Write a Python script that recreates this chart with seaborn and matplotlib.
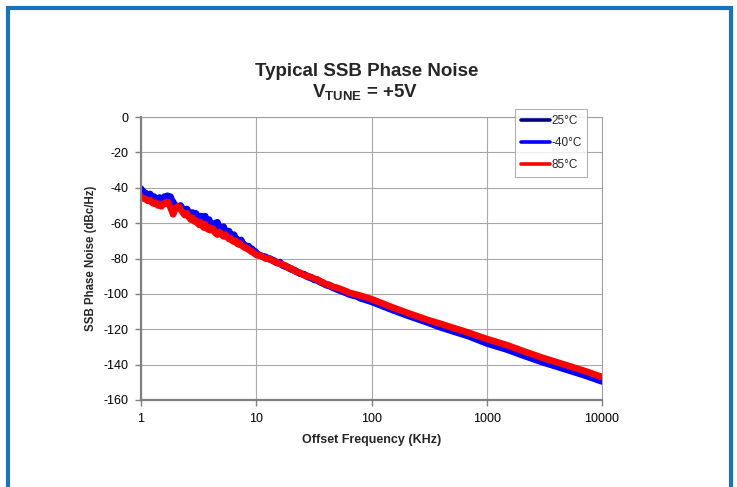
import pandas as pd
import seaborn as sns
import matplotlib.pyplot as plt
from matplotlib.patches import Rectangle

# offset frequency (KHz)
freq = [1.00, 1.05, 1.10, 1.15, 1.20, 1.25, 1.30, 1.35, 1.40, 1.45, 1.50, 1.55, 1.60, 1.65, 1.70,
        1.75, 1.80, 1.85, 1.90, 1.95,
        2.0, 2.1, 2.2, 2.3, 2.4, 2.5, 2.6, 2.7, 2.8, 2.9, 3.0, 3.1, 3.2, 3.3, 3.4, 3.5, 3.6, 3.7,
        3.8, 3.9,
        4.0, 4.2, 4.4, 4.6, 4.8, 5.0, 5.2, 5.4, 5.6, 5.8, 6.0, 6.2, 6.4, 6.6, 6.8, 7.0, 7.2, 7.4,
        7.6, 7.8, 8.0, 8.2, 8.4, 8.6, 8.8, 9.0, 9.2, 9.4, 9.6, 9.8,
        10, 11, 12, 13, 14, 15, 16, 17, 18, 19, 20, 22, 24, 26, 28, 30, 32, 34, 36, 38, 40,
        43, 46, 50, 55, 60, 65, 70, 75, 80, 90, 100,
        120, 150, 200, 300, 400, 500, 700, 1000, 1500, 2000, 3000, 5000, 7000, 10000]

# SSB phase noise (dBc/Hz) for each temperature
noise_m40 = [-40.5, -42.5, -43, -44.5, -43.5, -45.5, -45, -46.5, -47, -45.5, -47.5, -46, -45, -46, -44.5,
             -46, -45, -47, -48, -49.5,
             -50, -51.5, -50, -52, -53.5, -52, -54, -55.5, -54, -56, -54.5, -56.5, -57.5, -56,
             -58, -56.5, -56, -58.5, -59.5, -58,
             -60, -61.5, -60, -59.5, -62.5, -63.5, -62, -64.5, -65.5, -64.5, -66.5, -67.5, -66.5, -68.5,
             -69, -70, -70.5, -69.5, -71.5, -72, -72.5, -73, -73.5, -73, -74.5, -75, -74.5, -75.5, -76.5, -76,
             -77, -78.5, -79, -80.5, -81, -82.5, -82, -84, -84.5, -85, -86, -87, -88.5, -89, -90.5,
             -91, -92, -92.5, -93.5, -94, -95,
             -95.5, -96.5, -97.5, -98.5, -99.5, -100.5, -101, -101.5, -102.5, -103.5, -104.5,
             -106.5, -109, -112, -116, -119, -121, -124, -128, -131.5, -134.5, -138.5, -143, -146, -149.5]

noise_85 = [-45, -46, -46.5, -47.5, -47, -48.5, -49, -48.5, -50, -49.5, -50.5, -49.5, -48.5, -49, -48,
            -49.5, -51, -53, -55, -53,
            -51.5, -50.5, -52, -54, -55.5, -54.5, -56.5, -58, -57, -59, -58.5, -60, -61, -59.5, -61.5,
            -62.5, -60.5, -62, -63.5, -62.5,
            -64, -63, -65.5, -66.5, -65, -66.5, -67.5, -66.5, -68, -69, -68.5, -70, -70.5, -70, -71.5,
            -72, -71.5, -72.5, -73, -73.5, -74, -74, -74.5, -75, -75.5, -76, -76, -76.5, -77, -77.5,
            -78, -78.5, -80, -80, -81.5, -82, -83, -83.5, -84, -85.5, -85.5, -87.5, -88, -89.5, -90,
            -90.5, -91.5, -92, -93, -93.5, -94.5,
            -95, -96, -96.5, -97.5, -98.5, -99.5, -100, -100.5, -101, -102, -103,
            -105, -107.5, -110.5, -114.5, -117, -119, -122, -125.5, -129, -132, -136, -140.5, -143.5, -147]

noise_25 = [-43, -44, -45, -46, -45.5, -47, -47, -47.5, -48.5, -48, -49, -48, -47, -47.5, -46.5,
            -47.5, -48, -50, -51, -51,
            -51, -51, -51.5, -53, -54.5, -53.5, -55, -56.5, -56, -57.5, -57, -58, -59, -58, -60,
            -60, -58.5, -60, -61.5, -60.5,
            -62, -62, -63, -63, -64, -65, -65, -65.5, -67, -67, -67.5, -69, -69, -69, -70,
            -71, -71, -71, -72, -73, -73, -73.5, -74, -74, -75, -75.5, -75.5, -76, -77, -77,
            -77.5, -78.5, -79.5, -80, -81, -82, -83, -83.5, -84.5, -85, -86, -87, -88.5, -89, -90,
            -91, -92, -92, -93, -94, -94.5,
            -95, -96, -97, -98, -99, -100, -100.5, -101, -102, -103, -104,
            -106, -108.5, -111.5, -115.5, -118, -120, -123, -127, -130.5, -133.5, -137.5, -142, -145, -148.3]

labels = ['25°C', '-40°C', '85°C']
colors = ['#000080', '#0000ff', '#ff0000']

df = pd.concat([
    pd.DataFrame({'freq': freq, 'noise': noise_25, 'temp': labels[0]}),
    pd.DataFrame({'freq': freq, 'noise': noise_m40, 'temp': labels[1]}),
    pd.DataFrame({'freq': freq, 'noise': noise_85, 'temp': labels[2]}),
])

sns.set_theme(style='white')
plt.rcParams['font.family'] = ['Liberation Sans', 'DejaVu Sans']
plt.rcParams['axes.unicode_minus'] = False
plt.rcParams['mathtext.fontset'] = 'custom'
plt.rcParams['mathtext.rm'] = 'Liberation Sans:bold'
plt.rcParams['mathtext.it'] = 'Liberation Sans:bold'

W, H = 737, 487
fig = plt.figure(figsize=(W / 100, H / 100), dpi=100)
ax = fig.add_axes([141 / W, 1 - 400 / H, (602 - 141) / W, (400 - 117) / H])

sns.lineplot(data=df, x='freq', y='noise', hue='temp', hue_order=labels,
             palette=colors, linewidth=4.8, ax=ax, legend=False, estimator=None, sort=False)

ax.set_xscale('log')
ax.set_xlim(1, 10000)
ax.set_ylim(-160, 0)
ax.set_xticks([1, 10, 100, 1000, 10000])
ax.set_xticklabels(['1', '10', '100', '1000', '10000'])
ax.set_yticks(range(-160, 1, 20))
ax.minorticks_off()
ax.grid(True, color='#a8a8a8', linewidth=0.8)
ax.set_axisbelow(True)
for side in ['top', 'right']:
    ax.spines[side].set_color('#a0a0a0')
    ax.spines[side].set_linewidth(0.8)
for side in ['left', 'bottom']:
    ax.spines[side].set_color('#808080')
    ax.spines[side].set_linewidth(1.6)
ax.tick_params(axis='both', which='major', direction='out', length=4, width=1,
               color='#808080', labelsize=9, labelcolor='black', pad=5, left=True, bottom=True)
ax.set_xlabel('Offset Frequency (KHz)', fontsize=9, fontweight='bold', labelpad=7)
ax.set_ylabel('SSB Phase Noise (dBc/Hz)', fontsize=8.3, fontweight='bold', labelpad=5)

fig.text(367 / W, 1 - 76 / H, 'Typical SSB Phase Noise', ha='center', va='baseline',
         fontsize=13.5, fontweight='bold')
fig.text(365 / W, 1 - 97 / H, r'V$_{\mathrm{TUNE}}$ = +5V', ha='center', va='baseline',
         fontsize=13.5, fontweight='bold')

handles = [plt.Line2D([], [], color=c, linewidth=2.6) for c in colors]
leg = fig.legend(handles, labels, loc='upper left', bbox_to_anchor=(515 / W, 1 - 109 / H),
                 fontsize=8.5, frameon=True, fancybox=False, handlelength=2.5,
                 handletextpad=0.05, labelspacing=0.85, borderpad=0.5, borderaxespad=0)
leg.get_frame().set_edgecolor('#a0a0a0')
leg.get_frame().set_linewidth(0.8)

fig.patches.append(Rectangle((8 / W, -0.1), (731 - 8) / W, 1.1 - 8 / H,
                             transform=fig.transFigure, fill=False,
                             edgecolor='#1a72b8', linewidth=3))

fig.savefig('out.png', dpi=100)
